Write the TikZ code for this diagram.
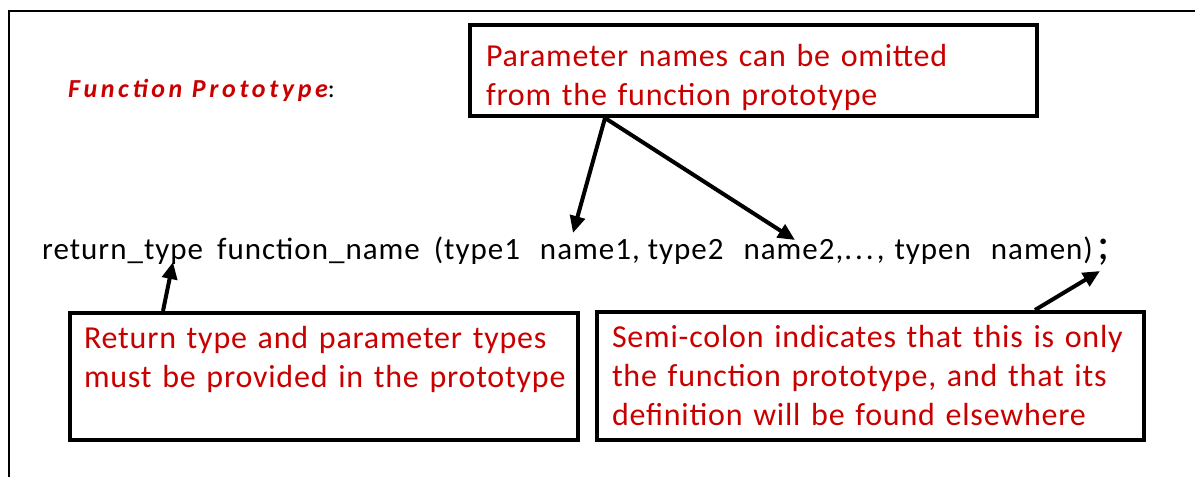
\documentclass[tikz,border=0pt]{standalone}
\usepackage{fontspec}
\setmainfont{Carlito}
\usetikzlibrary{arrows.meta,positioning}
\definecolor{notered}{RGB}{200,0,0}

\begin{document}
\begin{tikzpicture}[x=1pt, y=-1pt,
  note/.style={draw, line width=4pt, anchor=north west, align=left,
    inner xsep=15pt, inner ysep=0pt, text=notered,
    font=\fontsize{32}{39}\selectfont\addfontfeatures{LetterSpace=2.5}},
  code/.style={anchor=base west, inner sep=0pt,
    font=\fontsize{31}{37}\selectfont\addfontfeatures{LetterSpace=3.2}},
  arr/.style={-{Triangle[length=17pt,width=15pt]}, line width=4pt}
]
\useasboundingbox (0,0) rectangle (1195,477);
% frame edges
\draw[line width=2pt] (9,477) -- (9,11) -- (1195,11);

\node[anchor=base west, inner sep=0pt, font=\fontsize{26}{30}\selectfont] (title) at (68,97)
  {{\color{notered}\bfseries\itshape\addfontfeatures{LetterSpace=14}Function Prototype}:};

\node[code] (proto) at (42,259)
  {return\_type\hspace{14pt}function\_name\hspace{14pt}(type1\hspace{20pt}name1,\hspace{8pt}type2\hspace{20pt}name2,.\kern3pt.\kern3pt.\kern3pt,\hspace{10pt}typen\hspace{20pt}namen)\hspace{5pt}{\fontsize{46}{46}\selectfont;}};

% the three notes
\node[note, minimum width=567pt, minimum height=91pt, text width=535pt, inner xsep=16pt] (params) at (468,23)
  {\rule{0pt}{36pt}Parameter names can be omitted\\from the function prototype};
\node[note, minimum width=508pt, minimum height=127pt, text width=480pt, inner xsep=14pt] (rettype) at (68,311)
  {Return type and parameter types\\\mbox{must be provided in the prototype}\\\mbox{}};
\node[note, minimum width=547pt, minimum height=128pt, text width=517pt] (semi) at (595,310)
  {Semi-colon indicates that this is only\\the function prototype, and that its\\definition will be found elsewhere};

% arrow targets in the prototype line
\coordinate (name1) at (573,233);
\coordinate (name2) at (795,240);
\coordinate (type) at (173,262);
\coordinate (colon) at (1100,271);

\draw[arr] ([xshift=137pt]params.south west) -- (name1);
\draw[arr] ([xshift=137pt]params.south west) -- (name2);
\draw[arr] ([xshift=95pt]rettype.north west) -- (type);
\draw[arr] ([xshift=440pt]semi.north west) -- (colon);
\end{tikzpicture}
\end{document}
